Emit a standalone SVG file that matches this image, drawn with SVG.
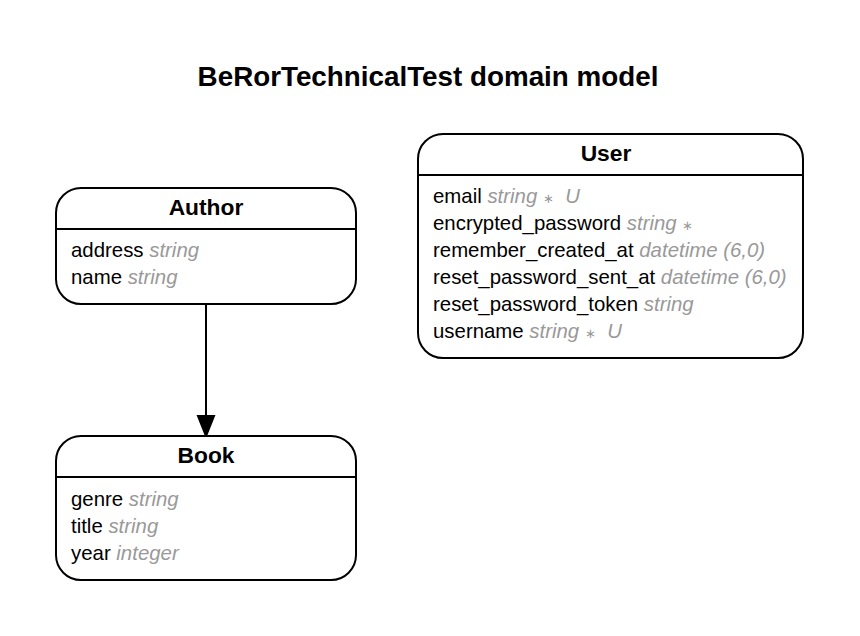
<svg xmlns="http://www.w3.org/2000/svg" width="860" height="636" viewBox="0 0 860 636">
<style>
.box{fill:#fff;stroke:#000;stroke-width:2}
.sep{stroke:#000;stroke-width:2}
.title{font-family:"Liberation Sans",Arial,sans-serif;font-weight:bold;font-size:27.8px;text-anchor:middle}
.hd{font-family:"Liberation Sans",Arial,sans-serif;font-weight:bold;font-size:22.8px;text-anchor:middle}
.at{font-family:"Liberation Sans",Arial,sans-serif;font-size:20.4px;fill:#000}
.ty{font-style:italic;fill:#999}
.st{font-size:13px;font-style:normal}
.edge{stroke:#000;stroke-width:2;fill:none}
</style>
<rect width="860" height="636" fill="#fff"/>
<text class="title" x="428" y="86">BeRorTechnicalTest domain model</text>
<g id="connectors">
<path class="edge" d="M206,304 L206,416"/>
<path d="M198,416 L214,416 L206,436 Z" fill="#000" stroke="#000" stroke-width="2"/>
</g>
<g id="User">
<rect class="box" x="418" y="134" width="385" height="224" rx="25" ry="25"/>
<line class="sep" x1="418" y1="175" x2="803" y2="175"/>
<text class="hd" x="606" y="161">User</text>
<text class="at" x="433" y="203" xml:space="preserve">email <tspan class="ty">string <tspan class="st">∗</tspan>  U</tspan></text>
<text class="at" x="433" y="230" xml:space="preserve">encrypted_password <tspan class="ty">string <tspan class="st">∗</tspan></tspan></text>
<text class="at" x="433" y="257">remember_created_at <tspan class="ty">datetime (6,0)</tspan></text>
<text class="at" x="433" y="284">reset_password_sent_at <tspan class="ty">datetime (6,0)</tspan></text>
<text class="at" x="433" y="311">reset_password_token <tspan class="ty">string</tspan></text>
<text class="at" x="433" y="338" xml:space="preserve">username <tspan class="ty">string <tspan class="st">∗</tspan>  U</tspan></text>
</g>
<g id="Author">
<rect class="box" x="56" y="188" width="300" height="116" rx="25" ry="25"/>
<line class="sep" x1="56" y1="229" x2="356" y2="229"/>
<text class="hd" x="206" y="215">Author</text>
<text class="at" x="71" y="257">address <tspan class="ty">string</tspan></text>
<text class="at" x="71" y="284">name <tspan class="ty">string</tspan></text>
</g>
<g id="Book">
<rect class="box" x="56" y="436" width="300" height="144" rx="25" ry="25"/>
<line class="sep" x1="56" y1="477" x2="356" y2="477"/>
<text class="hd" x="206" y="463">Book</text>
<text class="at" x="71" y="506">genre <tspan class="ty">string</tspan></text>
<text class="at" x="71" y="533">title <tspan class="ty">string</tspan></text>
<text class="at" x="71" y="560">year <tspan class="ty">integer</tspan></text>
</g>
</svg>
